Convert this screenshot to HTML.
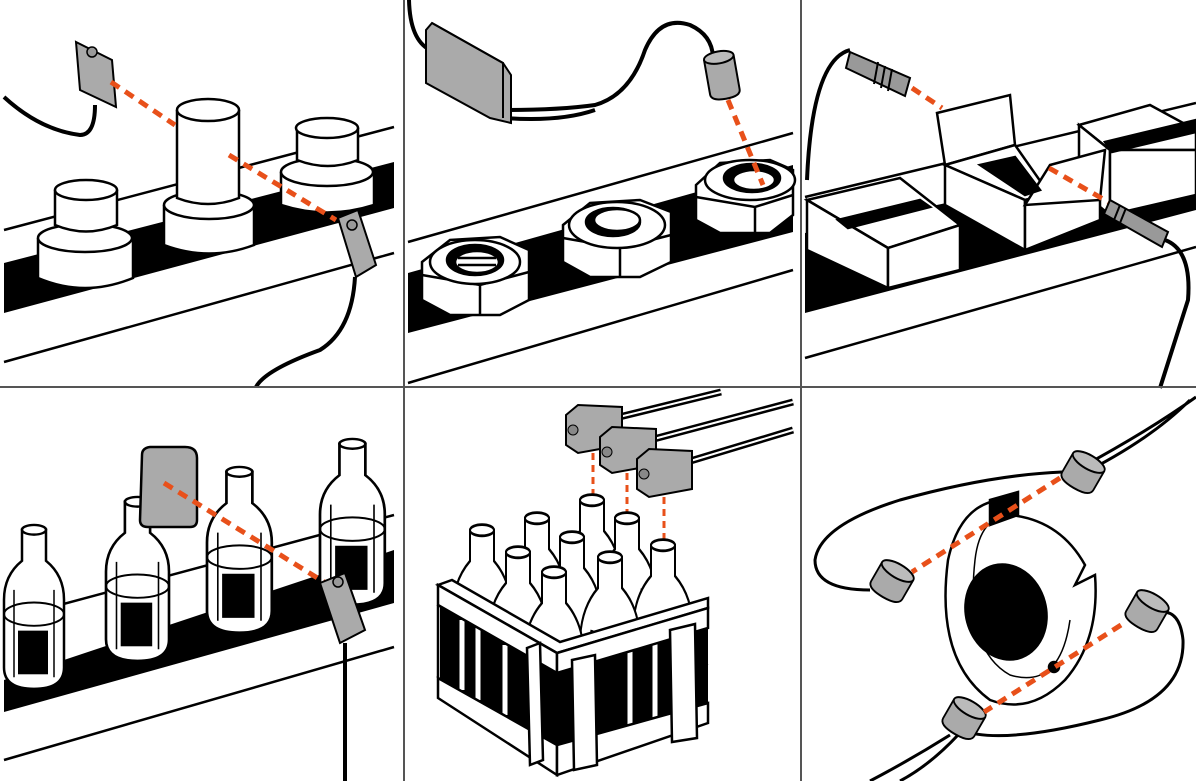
<!DOCTYPE html>
<html><head><meta charset="utf-8"><style>
html,body{margin:0;padding:0;background:#fff;}
svg{display:block;}
</style></head><body>
<svg width="1196" height="781" viewBox="0 0 1196 781" xmlns="http://www.w3.org/2000/svg">
<defs>
<clipPath id="crateclip"><path d="M420,470 L720,470 L708,723 L557,775 L438,698 Z"/></clipPath>
<g id="bottle">
<path d="M18,8 L18,40 Q0,55 0,80 L0,150 Q0,172 30,172 Q60,172 60,150 L60,80 Q60,55 42,40 L42,8 Z" fill="#fff" stroke="#000" stroke-width="2.5"/>
<rect x="14" y="112" width="30" height="45" fill="#000"/>
<path d="M10,70 L10,160 M50,70 L50,160" stroke="#000" stroke-width="1.5" fill="none"/>
<ellipse cx="30" cy="95" rx="30" ry="12" fill="none" stroke="#000" stroke-width="2"/>
<ellipse cx="30" cy="8" rx="12" ry="5" fill="#fff" stroke="#000" stroke-width="2.5"/>
</g>
<g id="cb">
<path d="M18,8 L18,30 Q0,45 0,70 L0,172 L60,172 L60,70 Q60,45 42,30 L42,8 Z" fill="#fff" stroke="#000" stroke-width="2"/>
<path d="M12,60 Q8,80 9,110 M48,60 Q52,80 51,110 M45,58 Q49,80 48,110" stroke="#000" stroke-width="3" fill="none"/>
<path d="M0,90 Q30,100 60,90" stroke="#000" stroke-width="1" fill="none"/>
<ellipse cx="30" cy="8" rx="12" ry="4" fill="#fff" stroke="#000" stroke-width="2"/>
</g>
<g id="cyl">
<path d="M0,0 L0,22 Q0,30 20,30 Q40,30 40,22 L40,0" fill="#aaa" stroke="#000" stroke-width="2"/>
<ellipse cx="20" cy="0" rx="20" ry="7" fill="#bbb" stroke="#000" stroke-width="2"/>
</g>
</defs>
<rect width="1196" height="781" fill="#fff"/>

<!-- ===== PANEL 1 ===== -->
<path d="M4,230 L394,127" stroke="#000" stroke-width="2.5"/>
<path d="M4,263 L394,162 L394,208 L4,313 Z" fill="#000"/>
<path d="M4,362 L394,253" stroke="#000" stroke-width="2.5"/>
<path d="M95,105 Q95,135 80,135 Q40,130 4,97" fill="none" stroke="#000" stroke-width="4"/>
<path d="M38,238 L38,278 Q85,298 133,278 L133,238" fill="#fff" stroke="#000" stroke-width="2.5"/>
<ellipse cx="85" cy="238" rx="47" ry="14" fill="#fff" stroke="#000" stroke-width="2.5"/>
<path d="M55,190 L55,225 Q86,238 117,225 L117,190" fill="#fff" stroke="#000" stroke-width="2.5"/>
<ellipse cx="86" cy="190" rx="31" ry="10" fill="#fff" stroke="#000" stroke-width="2.5"/>
<path d="M164,205 L164,245 Q209,262 254,245 L254,205" fill="#fff" stroke="#000" stroke-width="2.5"/>
<ellipse cx="209" cy="205" rx="45" ry="14" fill="#fff" stroke="#000" stroke-width="2.5"/>
<path d="M177,110 L177,198 Q208,210 239,198 L239,110" fill="#fff" stroke="#000" stroke-width="2.5"/>
<ellipse cx="208" cy="110" rx="31" ry="11" fill="#fff" stroke="#000" stroke-width="2.5"/>
<path d="M281,172 L281,205 Q327,220 374,205 L374,172" fill="#fff" stroke="#000" stroke-width="2.5"/>
<ellipse cx="327" cy="172" rx="46" ry="14" fill="#fff" stroke="#000" stroke-width="2.5"/>
<path d="M297,128 L297,160 Q328,172 358,160 L358,128" fill="#fff" stroke="#000" stroke-width="2.5"/>
<ellipse cx="327" cy="128" rx="31" ry="10" fill="#fff" stroke="#000" stroke-width="2.5"/>
<path d="M76,42 L112,60 L116,107 L80,90 Z" fill="#aaa" stroke="#000" stroke-width="2"/>
<circle cx="92" cy="52" r="5" fill="#999" stroke="#000" stroke-width="1.5"/>
<path d="M111,82 L175,125" stroke="#e8501a" stroke-width="5" stroke-dasharray="10 7"/>
<path d="M229,155 L336,220" stroke="#e8501a" stroke-width="5" stroke-dasharray="10 7"/>
<path d="M338,218 L358,210 L376,265 L356,277 Z" fill="#aaa" stroke="#000" stroke-width="2"/>
<circle cx="352" cy="225" r="5" fill="#999" stroke="#000" stroke-width="1.5"/>
<path d="M355,277 Q352,330 320,350 Q265,370 256,387" fill="none" stroke="#000" stroke-width="4"/>

<!-- ===== PANEL 2 ===== -->
<path d="M408,242 L793,133" stroke="#000" stroke-width="2.5"/>
<path d="M408,273 L793,165 L793,232 L408,333 Z" fill="#000"/>
<path d="M408,383 L793,270" stroke="#000" stroke-width="2.5"/>
<path d="M409,0 Q410,40 430,50" fill="none" stroke="#000" stroke-width="4"/>
<path d="M505,110 Q560,110 595,105 Q630,95 645,50 Q660,15 690,25 Q712,35 713,57" fill="none" stroke="#000" stroke-width="4"/>
<path d="M505,118 Q560,122 595,110" fill="none" stroke="#000" stroke-width="4"/>
<path d="M426,30 L432,23 L503,63 L511,75 L511,123 L490,118 L426,83 Z" fill="#aaa" stroke="#000" stroke-width="2"/>
<path d="M432,23 L503,63 L503,118" fill="none" stroke="#000" stroke-width="2"/>
<g transform="translate(704,60) rotate(-10)"><path d="M0,0 L0,35 Q0,42 15,42 Q30,42 30,35 L30,0" fill="#aaa" stroke="#000" stroke-width="2"/><ellipse cx="15" cy="0" rx="15" ry="6" fill="#bbb" stroke="#000" stroke-width="2"/></g>
<g stroke="#000" stroke-width="2.5" fill="#fff">
<path d="M422,262 L450,240 L500,237 L529,250 L529,300 L500,315 L450,315 L422,300 Z"/>
<path d="M422,275 L480,285 L529,272 M480,285 L480,315" fill="none"/>
<ellipse cx="475" cy="262" rx="45" ry="22"/>
<ellipse cx="475" cy="260" rx="28" ry="15" fill="#000"/>
<ellipse cx="477" cy="262" rx="22" ry="11" fill="#fff"/>
<path d="M458,258 L496,258 M458,265 L496,265" />
<path d="M563,225 L590,203 L640,200 L671,212 L671,262 L640,277 L590,277 L563,262 Z"/>
<path d="M563,238 L620,248 L671,235 M620,248 L620,277" fill="none"/>
<ellipse cx="617" cy="225" rx="48" ry="23"/>
<ellipse cx="613" cy="222" rx="27" ry="14" fill="#000"/>
<ellipse cx="617" cy="220" rx="23" ry="11"/>
<path d="M696,185 L720,163 L770,160 L793,170 L793,215 L770,233 L720,233 L696,220 Z"/>
<path d="M696,197 L755,207 L793,195 M755,207 L755,233" fill="none"/>
<ellipse cx="750" cy="180" rx="45" ry="20"/>
<ellipse cx="752" cy="178" rx="28" ry="14" fill="#000"/>
<ellipse cx="754" cy="180" rx="21" ry="10"/>
</g>
<path d="M728,100 L763,185" stroke="#e8501a" stroke-width="5" stroke-dasharray="10 7"/>

<!-- ===== PANEL 3 ===== -->
<path d="M805,197 L1196,103" stroke="#000" stroke-width="2.5"/>
<path d="M805,233 L1196,150 L1196,210 L805,313 Z" fill="#000"/>
<path d="M805,358 L1196,247" stroke="#000" stroke-width="2.5"/>
<path d="M807,180 Q812,60 850,50" fill="none" stroke="#000" stroke-width="4"/>
<path d="M850,52 L910,78 L905,96 L846,68 Z" fill="#999" stroke="#000" stroke-width="2"/>
<path d="M878,62 L874,84 M885,66 L881,88 M892,69 L888,91" stroke="#000" stroke-width="2"/>
<path d="M912,88 L942,108" stroke="#e8501a" stroke-width="5" stroke-dasharray="10 7"/>
<g stroke="#000" stroke-width="2.5" fill="#fff">
<path d="M807,200 L900,178 L960,225 L888,248 Z"/>
<path d="M807,200 L888,248 L888,288 L807,250 Z"/>
<path d="M888,248 L960,225 L960,270 L888,288 Z"/>
<path d="M838,220 L920,200 L930,207 L848,228 Z" fill="#000"/>
<path d="M1079,125 L1150,105 L1196,130 L1196,150 L1110,150 Z"/>
<path d="M1079,125 L1110,150 L1110,215 L1079,190 Z"/>
<path d="M1110,150 L1196,150 L1196,195 L1110,215 Z"/>
<path d="M1105,142 L1196,120 L1196,132 L1112,152 Z" fill="#000"/>
<path d="M937,113 L1010,95 L1015,145 L945,165 Z"/>
<path d="M945,165 L1015,145 L1050,195 L1025,200 Z"/>
<path d="M945,165 L1025,200 L1025,250 L945,205 Z"/>
<path d="M1025,200 L1100,180 L1100,220 L1025,250 Z"/>
<path d="M1050,165 L1105,150 L1100,200 L1025,205 Z"/>
<path d="M980,165 L1015,157 L1040,190 L1025,195 Z" fill="#000"/>
</g>
<path d="M1049,168 L1110,203" stroke="#e8501a" stroke-width="5" stroke-dasharray="10 7"/>
<path d="M1110,200 L1168,232 L1162,247 L1104,214 Z" fill="#999" stroke="#000" stroke-width="2"/>
<path d="M1120,205 L1114,220 M1126,208 L1120,223" stroke="#000" stroke-width="2"/>
<path d="M1165,240 Q1192,250 1188,300 L1160,388" fill="none" stroke="#000" stroke-width="4"/>

<!-- ===== PANEL 4 ===== -->
<path d="M4,620 L394,515" stroke="#000" stroke-width="2.5"/>
<path d="M4,680 L394,550 L394,603 L4,712 Z" fill="#000"/>
<path d="M4,760 L394,647" stroke="#000" stroke-width="2.5"/>
<use href="#bottle" transform="translate(4,522) scale(1.0,0.97)"/>
<use href="#bottle" transform="translate(106,494) scale(1.05,0.97)"/>
<path d="M142,455 Q142,448 150,447 L185,447 Q197,447 197,458 L197,520 Q197,527 190,527 L148,527 Q140,527 140,520 Z" fill="#aaa" stroke="#000" stroke-width="2.5"/>
<use href="#bottle" transform="translate(207,464) scale(1.08,0.98)"/>
<use href="#bottle" transform="translate(320,436) scale(1.08,0.98)"/>
<path d="M164,483 L324,582" stroke="#e8501a" stroke-width="5" stroke-dasharray="10 7"/>
<path d="M320,583 L345,573 L365,630 L340,643 Z" fill="#aaa" stroke="#000" stroke-width="2"/>
<circle cx="338" cy="582" r="5" fill="#999" stroke="#000" stroke-width="1.5"/>
<path d="M345,643 L345,781" stroke="#000" stroke-width="4"/>

<!-- ===== PANEL 5 ===== -->
<g stroke="#000" stroke-width="7" fill="none">
<path d="M615,418 L721,392"/><path d="M650,440 L793,402"/><path d="M687,462 L793,430"/>
</g>
<g stroke="#fff" stroke-width="2" fill="none">
<path d="M615,418 L721,392"/><path d="M650,440 L793,402"/><path d="M687,462 L793,430"/>
</g>
<g stroke="#000" stroke-width="2" fill="#aaa">
<path d="M566,415 L578,405 L622,407 L622,445 L578,453 L566,445 Z"/>
<path d="M600,437 L612,427 L656,429 L656,465 L612,473 L600,465 Z"/>
<path d="M637,459 L649,449 L692,451 L692,489 L649,497 L637,489 Z"/>
</g>
<circle cx="573" cy="430" r="5" fill="#888" stroke="#000"/><circle cx="607" cy="452" r="5" fill="#888" stroke="#000"/><circle cx="644" cy="474" r="5" fill="#888" stroke="#000"/>
<path d="M593,453 L593,500 M627,473 L627,515 M664,497 L664,543" stroke="#e8501a" stroke-width="3" stroke-dasharray="7 5"/>
<g clip-path="url(#crateclip)">
<path d="M445,675 L590,635 L708,665" fill="none" stroke="#000" stroke-width="2"/>
<use href="#cb" transform="translate(562,489) scale(1,1.4)"/>
<use href="#cb" transform="translate(507,507) scale(1,1.4)"/>
<use href="#cb" transform="translate(597,507) scale(1,1.4)"/>
<use href="#cb" transform="translate(452,519) scale(1,1.4)"/>
<use href="#cb" transform="translate(542,526) scale(1,1.4)"/>
<use href="#cb" transform="translate(633,534) scale(1,1.4)"/>
<use href="#cb" transform="translate(488,541) scale(1,1.4)"/>
<use href="#cb" transform="translate(580,546) scale(1,1.4)"/>
<use href="#cb" transform="translate(524,561) scale(1,1.4)"/>
</g>
<path d="M440,605 L557,673 L708,628 L708,703 L557,745 L440,678 Z" fill="#000"/>
<path d="M462,620 L462,690 M478,628 L478,700 M505,645 L505,715 M630,650 L630,725 M655,643 L655,718" stroke="#fff" stroke-width="5"/>
<g stroke="#000" stroke-width="2.5" fill="#fff">
<path d="M438,585 L452,580 L560,642 L708,598 L708,608 L557,653 L438,585 Z"/>
<path d="M438,585 L557,653 L557,673 L438,605 Z"/>
<path d="M557,653 L708,608 L708,628 L557,673 Z"/>
<path d="M438,678 L557,745 L557,775 L438,698 Z"/>
<path d="M557,745 L708,703 L708,723 L557,775 Z"/>
<path d="M438,605 L438,678 M447,610 L447,683" fill="none"/>
<path d="M527,648 L540,643 L543,760 L530,765 Z"/>
<path d="M572,660 L595,655 L597,765 L574,770 Z"/>
<path d="M670,630 L695,624 L697,738 L672,742 Z"/>
</g>

<!-- ===== PANEL 6 ===== -->
<path d="M1080,468 Q1150,430 1196,397 M1080,475 Q1150,440 1190,400" fill="none" stroke="#000" stroke-width="3"/>
<path d="M1062,472 Q990,475 900,500 Q820,525 815,560 Q815,590 870,590" fill="none" stroke="#000" stroke-width="3"/>
<path d="M1160,612 Q1180,610 1183,640 Q1185,700 1100,720 Q1000,745 960,730" fill="none" stroke="#000" stroke-width="3"/>
<path d="M950,735 Q910,760 870,781 M958,735 Q930,765 900,781" fill="none" stroke="#000" stroke-width="3"/>
<g stroke="#000" stroke-width="2.5">
<path d="M1000,500 Q960,505 948,560 Q935,660 990,700 Q1030,715 1065,680 Q1100,640 1095,575 L1075,585 L1085,565 Q1060,520 1010,515 Z" fill="#fff"/>
<path d="M1013,515 Q980,515 975,560 Q965,650 1010,675 Q1060,690 1070,620" fill="none" stroke-width="1.5"/>
<ellipse cx="1006" cy="612" rx="40" ry="48" fill="#000" transform="rotate(-15 1006 612)"/>
<path d="M990,500 L1018,492 L1018,515 L990,525 Z" fill="#000"/>
<circle cx="1054" cy="667" r="5" fill="#000"/>
</g>
<use href="#cyl" transform="translate(1063,461) rotate(30 20 15) scale(0.9,1)"/>
<use href="#cyl" transform="translate(872,570) rotate(30 20 15) scale(0.9,1)"/>
<use href="#cyl" transform="translate(1127,600) rotate(30 20 15) scale(0.9,1)"/>
<use href="#cyl" transform="translate(944,707) rotate(30 20 15) scale(0.9,1)"/>
<path d="M1060,478 L912,572" stroke="#e8501a" stroke-width="5" stroke-dasharray="10 7"/>
<path d="M1121,625 L984,712" stroke="#e8501a" stroke-width="5" stroke-dasharray="10 7"/>

<path d="M404,0 L404,781 M801,0 L801,781" stroke="#555" stroke-width="2"/>
<path d="M0,387 L1196,387" stroke="#555" stroke-width="2"/>
</svg>
</body></html>
